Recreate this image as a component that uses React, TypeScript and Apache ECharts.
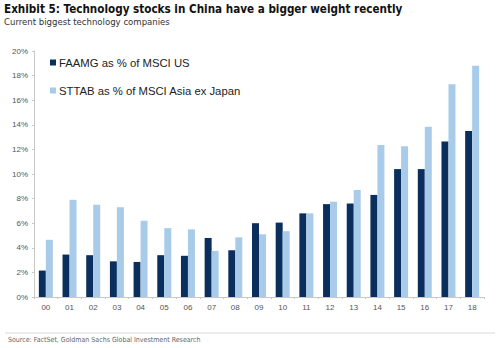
import React, { useEffect, useRef } from "react";
import * as echarts from "echarts";

const categories = ["00","01","02","03","04","05","06","07","08","09","10","11","12","13","14","15","16","17","18"];
const faamg = [2.15, 3.45, 3.4, 2.9, 2.85, 3.4, 3.35, 4.8, 3.8, 6.0, 6.05, 6.8, 7.55, 7.6, 8.3, 10.4, 10.4, 12.65, 13.5];
const sttab = [4.65, 7.9, 7.5, 7.3, 6.2, 5.6, 5.5, 3.75, 4.85, 5.1, 5.35, 6.8, 7.75, 8.7, 12.35, 12.25, 13.85, 17.3, 18.8];
const seriesNames = ["FAAMG as % of MSCI US", "STTAB as % of MSCI Asia ex Japan"];
const titleText = "Exhibit 5: Technology stocks in China have a bigger weight recently";
const subtitleText = "Current biggest technology companies";
const sourceText = "Source: FactSet, Goldman Sachs Global Investment Research";

const DARK = "#0b2f5c";
const LIGHT = "#a9cbea";
const NARROW = "'Liberation Sans Narrow', 'DejaVu Sans Condensed', 'Liberation Sans', sans-serif";
const ARIAL = "'Liberation Sans', Arial, sans-serif";

export default function App() {
  const ref = useRef<HTMLDivElement>(null);
  useEffect(() => {
    if (!ref.current) return;
    const chart = echarts.init(ref.current, null, { renderer: "svg" });
    chart.setOption({
      animation: false,
      backgroundColor: "#ffffff",
      grid: { left: 34, right: 16, top: 51, bottom: 51, containLabel: false },
      legend: {
        orient: "vertical",
        left: 45,
        top: 52,
        itemGap: 17,
        icon: "rect",
        itemWidth: 6,
        itemHeight: 6,
        textStyle: { fontSize: 11.3, color: "#222", fontFamily: ARIAL, padding: [0, 0, 0, -2] },
        data: seriesNames,
      },
      xAxis: {
        type: "category",
        data: categories,
        axisLine: { show: true, lineStyle: { color: "#c8c8c8" } },
        axisTick: { show: true, length: 2, lineStyle: { color: "#c8c8c8" } },
        axisLabel: { fontSize: 8, color: "#555", margin: 6, fontFamily: ARIAL },
      },
      yAxis: {
        type: "value",
        min: 0,
        max: 20,
        interval: 2,
        splitLine: { show: false },
        axisLine: { show: true, lineStyle: { color: "#c8c8c8" } },
        axisTick: { show: true, length: 2, lineStyle: { color: "#c8c8c8" } },
        axisLabel: { formatter: "{value}%", fontSize: 8, color: "#555", margin: 6, fontFamily: ARIAL },
      },
      series: [
        { name: seriesNames[0], type: "bar", data: faamg, barWidth: 7, barGap: "0%", itemStyle: { color: DARK } },
        { name: seriesNames[1], type: "bar", data: sttab, barWidth: 7, barGap: "0%", itemStyle: { color: LIGHT } },
      ],
      graphic: [
        { type: "text", left: 4, top: 3, style: { text: titleText, fontSize: 11.6, fontWeight: "bold", fill: "#111", fontFamily: NARROW } },
        { type: "text", left: 4, top: 16, style: { text: subtitleText, fontSize: 9.5, fill: "#333", fontFamily: NARROW } },
        { type: "line", shape: { x1: 5, y1: 333, x2: 495, y2: 333 }, style: { stroke: "#d8d8d8", lineWidth: 1 } },
        { type: "text", left: 8, top: 336, style: { text: sourceText, fontSize: 7, fill: "#666", fontFamily: NARROW } },
      ],
    });
    return () => chart.dispose();
  }, []);
  return <div ref={ref} style={{ position: "absolute", left: 0, top: 0, width: 500, height: 348 }} />;
}
